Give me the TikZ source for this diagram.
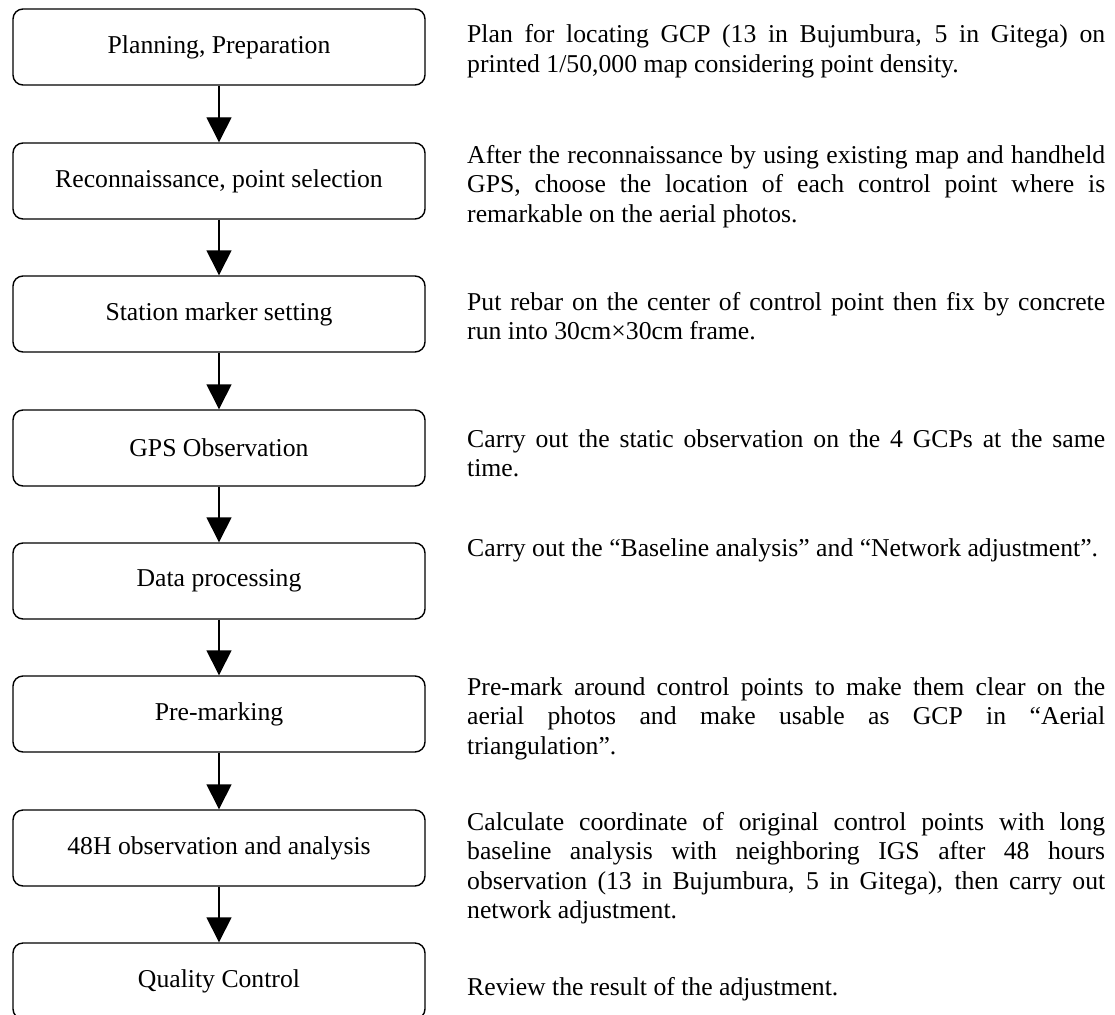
\documentclass[tikz,border=0pt]{standalone}
\usepackage{fontspec}
\setmainfont{Liberation Serif}
\usetikzlibrary{arrows.meta}

% one justified line of a note, and the ragged last line
\newcommand\fullln[1]{\hbox to 638pt{#1}}
\newcommand\lastln[1]{\hbox{#1}}
\newcommand\bodysize{\fontsize{25.7pt}{29.5pt}\selectfont}

\begin{document}
\begin{tikzpicture}[x=1pt,y=-1pt,
  stage/.style={draw, line width=1.4pt, rounded corners=10pt,
    minimum width=412pt, minimum height=76pt, inner sep=0pt, font=\bodysize},
  flow/.style={line width=1.4pt, -{Triangle[width=25pt,length=25pt]}},
  note/.style={anchor=base west, inner sep=0pt, font=\bodysize}]

\useasboundingbox (0,0) rectangle (1115,1014);
\clip (0,0) rectangle (1115,1014);

% process stages
\node[stage] (s1) at (219,47)  {Planning, Preparation};
\node[stage] (s2) at (219,181) {Reconnaissance, point selection};
\node[stage] (s3) at (219,314) {Station marker setting};
\node[stage] (s4) at (219,448) {GPS Observation};
\node[stage] (s5) at (219,581) {Data processing};
\node[stage] (s6) at (219,714) {Pre-marking};
\node[stage] (s7) at (219,848) {48H observation and analysis};
\node[stage] (s8) at (219,981) {Quality Control};

\foreach \a/\b in {s1/s2,s2/s3,s3/s4,s4/s5,s5/s6,s6/s7,s7/s8}
  \draw[flow] (\a.south) -- (\b.north);

% descriptions
\node[note] (d1) at (467,43) {\vtop{%
  \fullln{Plan for locating GCP (13 in Bujumbura, 5 in Gitega) on}
  \lastln{printed 1/50,000 map considering point density.}}};
\node[note] (d2) at (467,163) {\vtop{%
  \fullln{After the reconnaissance by using existing map and handheld}
  \fullln{GPS, choose the location of each control point where is}
  \lastln{remarkable on the aerial photos.}}};
\node[note] (d3) at (467,310) {\vtop{%
  \fullln{Put rebar on the center of control point then fix by concrete}
  \lastln{run into 30cm×30cm frame.}}};
\node[note] (d4) at (467,447) {\vtop{%
  \fullln{Carry out the static observation on the 4 GCPs at the same}
  \lastln{time.}}};
\node[note] (d5) at (467,556) {\vtop{%
  \lastln{Carry out the “Baseline analysis” and “Network adjustment”.}}};
\node[note] (d6) at (467,695) {\vtop{%
  \fullln{Pre-mark around control points to make them clear on the}
  \fullln{aerial photos and make usable as GCP in “Aerial}
  \lastln{triangulation”.}}};
\node[note] (d7) at (467,830) {\vtop{%
  \fullln{Calculate coordinate of original control points with long}
  \fullln{baseline analysis with neighboring IGS after 48 hours}
  \fullln{observation (13 in Bujumbura, 5 in Gitega), then carry out}
  \lastln{network adjustment.}}};
\node[note] (d8) at (467,995) {\vtop{%
  \lastln{Review the result of the adjustment.}}};
\end{tikzpicture}
\end{document}
